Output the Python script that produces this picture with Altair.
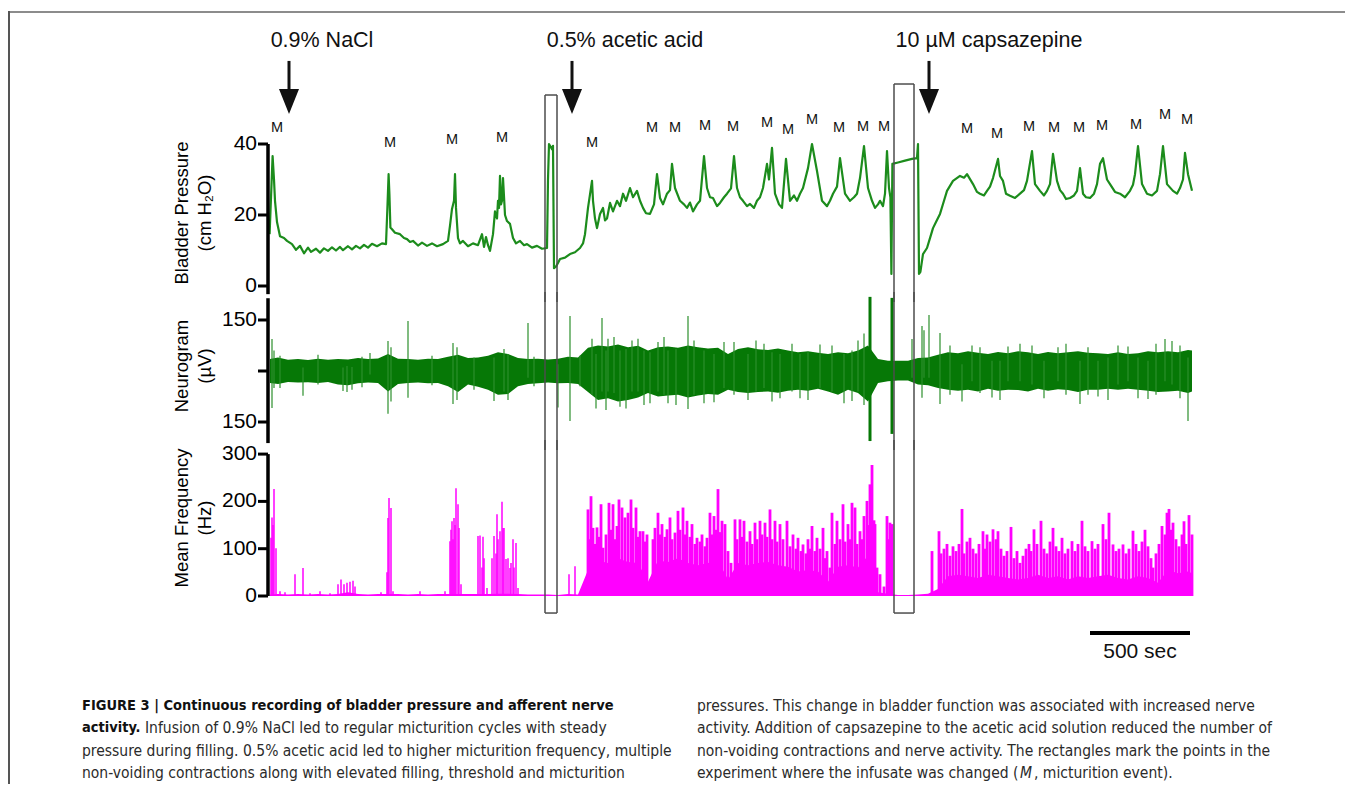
import altair as alt
import pandas as pd

# ---------------- data (time in seconds) ----------------
PRESSURE = [
    (8, 14.6), (23, 36.6), (30, 30), (35, 24), (45, 18), (60, 14), (80, 13.5), (95, 12.7),
    (120, 11.8), (140, 10.2), (160, 11.3), (180, 9.2), (200, 10.8), (215, 9.6), (240, 10.5),
    (260, 9.4), (280, 10.6), (300, 9.9), (320, 10.9), (340, 10), (360, 11), (375, 10.1),
    (400, 11.2), (420, 10.3), (440, 11.3), (460, 10.6), (480, 11.6), (500, 10.8), (520, 11.9),
    (545, 11.2), (570, 12), (590, 11.8), (597, 22), (603, 31.5), (607, 26), (612, 16.5),
    (620, 16), (635, 15), (660, 14.6), (680, 13.5), (695, 13.2), (710, 12.4), (725, 12.7),
    (750, 11.4), (770, 12.2), (795, 11.3), (820, 12), (845, 11.2), (875, 11.8), (900, 12.7),
    (910, 17), (920, 21.7), (930, 24), (935, 31.5), (940, 22), (950, 13.5), (960, 12),
    (975, 12.7), (1000, 11.2), (1025, 12), (1050, 11.5), (1070, 14.6), (1080, 11),
    (1090, 13.8), (1100, 11.5), (1110, 9.9), (1125, 14.6), (1135, 21), (1145, 19), (1150, 24),
    (1155, 22), (1160, 31), (1165, 23), (1170, 24), (1175, 30.4), (1185, 20), (1195, 18.3),
    (1210, 17.5), (1225, 13.5), (1240, 12), (1260, 12.7), (1280, 11.5), (1295, 11.8),
    (1320, 10.8), (1345, 11.3), (1370, 10.5), (1395, 10.7), (1400, 30), (1405, 40),
    (1420, 38.5), (1425, 39.5), (1430, 5), (1440, 5.5), (1450, 6.5), (1460, 7.6), (1485, 8),
    (1510, 9), (1535, 9.5), (1560, 10.7), (1575, 12), (1585, 14.6), (1600, 22), (1620, 29.6),
    (1625, 24), (1635, 19), (1645, 16.3), (1660, 20.3), (1675, 22), (1685, 18.5), (1695, 19),
    (1710, 23.4), (1725, 21), (1745, 24), (1760, 22.5), (1775, 26), (1790, 24), (1810, 27.6),
    (1825, 25), (1845, 26.8), (1860, 24), (1875, 22), (1890, 20.5), (1910, 20.3), (1930, 23),
    (1945, 31.5), (1960, 24.8), (1975, 23), (1995, 26), (2010, 27), (2020, 34.4), (2035, 27.6),
    (2060, 24), (2080, 23), (2095, 22), (2110, 23.5), (2125, 21), (2145, 23), (2160, 24),
    (2180, 36.6), (2195, 27.6), (2210, 25), (2225, 24.8), (2245, 22.5), (2260, 23.4),
    (2280, 25), (2295, 26), (2315, 27.5), (2330, 36.6), (2345, 27.6), (2360, 25), (2375, 24),
    (2395, 22.5), (2410, 23.1), (2430, 22), (2445, 24), (2460, 25), (2475, 27.6), (2495, 34.4),
    (2505, 30), (2520, 38.9), (2535, 26), (2555, 23), (2570, 22), (2590, 35.8), (2610, 24),
    (2630, 25.5), (2645, 24), (2660, 26), (2675, 27.6), (2700, 33.2), (2720, 40), (2745, 32.4),
    (2770, 24), (2795, 22.5), (2810, 24), (2825, 26), (2845, 28), (2860, 36), (2885, 26),
    (2910, 24), (2930, 25), (2945, 26), (2960, 30.4), (2980, 39.4), (3000, 27.6), (3020, 24),
    (3035, 22), (3050, 23), (3060, 24), (3075, 22.5), (3085, 26), (3095, 38), (3105, 27.6),
    (3112, 25), (3117, 3.4), (3122, 34.4), (3150, 34.8), (3185, 35.3), (3220, 35.8),
    (3245, 36), (3250, 40), (3255, 3.4), (3262, 4), (3275, 9), (3295, 10.7), (3310, 13.5),
    (3325, 16.3), (3340, 18), (3360, 20.3), (3380, 24), (3395, 26.8), (3425, 29.6), (3460, 31),
    (3480, 30.5), (3495, 31.5), (3525, 28.7), (3545, 26.5), (3560, 26), (3580, 25.5),
    (3595, 26.8), (3610, 28), (3625, 30.4), (3650, 35.8), (3660, 31), (3675, 29.6), (3690, 26),
    (3710, 25.4), (3735, 24.8), (3760, 26), (3780, 27), (3795, 29.6), (3820, 38), (3835, 28.7),
    (3860, 26.8), (3880, 25.5), (3895, 26.8), (3910, 28.7), (3925, 37.2), (3945, 29.6),
    (3960, 27), (3975, 26), (3990, 24.5), (4010, 24.8), (4030, 25.5), (4045, 26.8),
    (4060, 33.2), (4075, 26), (4090, 25), (4110, 24.8), (4130, 26), (4145, 28.7), (4160, 34.4),
    (4175, 36), (4195, 30), (4210, 28.7), (4235, 26.5), (4260, 26), (4285, 25), (4310, 26.8),
    (4325, 28.5), (4335, 31.5), (4350, 39.4), (4370, 28.7), (4395, 26), (4420, 25.5),
    (4445, 26.8), (4460, 31.5), (4475, 39.4), (4495, 28.7), (4525, 26.8), (4545, 26),
    (4560, 27.6), (4575, 30), (4585, 37.5), (4600, 31.5), (4620, 26.8),
]

# micturition labels: (time, label height in cm H2O units)
M_EVENTS = [
    (45, 44.5), (610, 40.3), (920, 41.1), (1170, 41.7), (1620, 40.3), (1920, 44.5),
    (2035, 44.5), (2185, 45.1), (2325, 44.8), (2495, 45.9), (2600, 43.9), (2720, 46.8),
    (2855, 44.5), (2975, 44.8), (3080, 44.8), (3495, 44.2), (3645, 42.8), (3805, 44.8),
    (3930, 44.5), (4055, 44.5), (4170, 45.1), (4340, 45.4), (4485, 48.2), (4595, 46.8),
]

ARROW_T = [105, 1520, 3305]
ARROW_TEXT = ["0.9% NaCl", "0.5% acetic acid", "10 µM capsazepine"]
ARROW_TEXT_T = [270, 1785, 3605]

RECT_T = [(1385, 1445), (3130, 3230)]
RECT_TOP = [53.8, 56.9]

# axes
P_TICKS = [0, 20, 40]
P_TICK_LABELS = ["0", "20", "40"]
P_TITLE = ["Bladder Pressure", "(cm H₂O)"]
N_TICKS = [-150, 0, 150]
N_TICK_LABELS = ["150", "", "150"]
N_TITLE = ["Neurogram", "(µV)"]
F_TICKS = [0, 100, 200, 300]
F_TICK_LABELS = ["0", "100", "200", "300"]
F_TITLE = ["Mean Frequency", "(Hz)"]

# neurogram envelope: (time, upper µV, lower µV)
NEURO_ENV = [
    (10, 35, -35), (50, 40, -38), (100, 33, -32), (150, 35, -34), (200, 32, -33), (250, 36, -35),
    (300, 33, -32), (350, 35, -40), (400, 34, -42), (450, 38, -36), (500, 35, -34), (550, 37, -35),
    (600, 50, -60), (650, 36, -38), (700, 35, -35), (750, 33, -34), (800, 36, -36), (850, 35, -35),
    (900, 42, -45), (950, 48, -62), (1000, 38, -40), (1050, 40, -46), (1100, 45, -55),
    (1150, 55, -70), (1200, 50, -68), (1250, 38, -45), (1300, 35, -38), (1350, 36, -36),
    (1400, 34, -34), (1450, 36, -36), (1500, 42, -35), (1550, 40, -38), (1600, 68, -62),
    (1650, 75, -85), (1700, 72, -80), (1750, 78, -90), (1800, 70, -85), (1850, 74, -78),
    (1900, 60, -65), (1950, 70, -75), (2000, 72, -72), (2050, 68, -70), (2100, 75, -78),
    (2150, 70, -72), (2200, 66, -68), (2250, 68, -70), (2300, 50, -55), (2350, 65, -62),
    (2400, 70, -65), (2450, 64, -62), (2500, 62, -60), (2550, 66, -64), (2600, 60, -58),
    (2650, 55, -55), (2700, 58, -58), (2750, 54, -52), (2800, 50, -60), (2850, 55, -70),
    (2900, 52, -55), (2950, 60, -65), (3000, 75, -90), (3050, 35, -35), (3100, 30, -30),
    (3150, 30, -28), (3200, 30, -28), (3250, 38, -40), (3300, 40, -42), (3350, 48, -50),
    (3400, 55, -55), (3450, 52, -58), (3500, 58, -55), (3550, 54, -60), (3600, 50, -52),
    (3650, 56, -58), (3700, 52, -55), (3750, 58, -56), (3800, 55, -60), (3850, 50, -52),
    (3900, 56, -58), (3950, 52, -54), (4000, 55, -56), (4050, 58, -62), (4100, 54, -55),
    (4150, 52, -55), (4200, 50, -52), (4250, 55, -55), (4300, 50, -52), (4350, 52, -55),
    (4400, 58, -58), (4450, 55, -62), (4500, 58, -60), (4550, 55, -58), (4600, 62, -65),
    (4620, 60, -60),
]

# neurogram spikes: (time, top µV, bottom µV)
NEURO_SPIKES = [
    (20, 94, -109), (30, 60, -50), (60, 45, -50), (175, 10, -73), (250, 48, -40), (375, 10, -59),
    (395, 15, -62), (420, 12, -55), (470, 42, -48), (510, 53, -10), (600, 88, -126),
    (615, 70, -90), (700, 147, -79), (820, 45, -42), (925, 82, -97), (945, 70, -85),
    (1030, 40, -55), (1130, 40, -88), (1180, 65, -60), (1200, 50, -85), (1300, 141, -20),
    (1330, 42, -45), (1450, 20, -107), (1510, 162, -147), (1560, 45, -45), (1620, 95, -70),
    (1640, 50, -110), (1670, 156, -60), (1690, 60, -115), (1700, 95, -60), (1730, 100, -65),
    (1760, 60, -105), (1790, 65, -110), (1820, 90, -60), (1850, 95, -60), (1880, 60, -100),
    (1910, 55, -95), (1950, 85, -60), (1980, 100, -70), (2000, 60, -95), (2040, 65, -100),
    (2100, 162, -112), (2130, 90, -70), (2180, 60, -95), (2230, 50, -92), (2280, 85, -50),
    (2330, 85, -70), (2400, 50, -85), (2440, 90, -60), (2480, 80, -50), (2520, 55, -90),
    (2560, 50, -80), (2620, 80, -60), (2660, 50, -80), (2700, 55, -85), (2760, 78, -50),
    (2820, 75, -60), (2880, 50, -95), (2920, 60, -88), (2950, 90, -60), (2980, 110, -100),
    (3220, 94, -20), (3270, 132, -79), (3280, 120, -20), (3305, 165, -20), (3360, 112, -97),
    (3410, 75, -70), (3470, 20, -90), (3520, 75, -30), (3560, 70, -65), (3620, 30, -78),
    (3660, 30, -85), (3700, 72, -30), (3760, 80, -30), (3820, 75, -40), (3880, 30, -80),
    (3950, 70, -30), (3990, 80, -70), (4060, 30, -97), (4100, 70, -70), (4150, 30, -75),
    (4200, 40, -85), (4250, 75, -40), (4300, 72, -30), (4350, 40, -80), (4400, 30, -82),
    (4440, 80, -70), (4485, 94, -30), (4520, 88, -40), (4560, 75, -80), (4600, 40, -147),
]
NEURO_BIG = [(3010, 218, -206), (3120, 215, -185)]

# mean frequency: dense core level (time, Hz)
FREQ_CORE = [
    (10, 3), (50, 4), (100, 3), (150, 4), (200, 3), (250, 4), (300, 3), (350, 4), (400, 8),
    (450, 4), (500, 3), (550, 4), (600, 4), (650, 4), (700, 3), (750, 4), (800, 3), (850, 4),
    (900, 4), (950, 4), (1000, 4), (1050, 4), (1100, 4), (1150, 5), (1200, 5), (1250, 4),
    (1300, 3), (1350, 3), (1400, 3), (1450, 2), (1500, 4), (1550, 3), (1600, 55), (1650, 75),
    (1700, 70), (1750, 80), (1800, 72), (1850, 70), (1900, 30), (1950, 75), (2000, 72),
    (2050, 80), (2100, 70), (2150, 65), (2200, 70), (2250, 75), (2300, 35), (2350, 70),
    (2400, 65), (2450, 70), (2500, 72), (2550, 65), (2600, 62), (2650, 52), (2700, 55),
    (2750, 52), (2800, 30), (2850, 62), (2900, 65), (2950, 60), (3000, 85), (3050, 8),
    (3100, 5), (3150, 2), (3200, 2), (3250, 3), (3300, 5), (3350, 15), (3400, 42), (3450, 45),
    (3500, 42), (3550, 38), (3600, 45), (3650, 42), (3700, 38), (3750, 35), (3800, 38),
    (3850, 45), (3900, 38), (3950, 42), (4000, 35), (4050, 42), (4100, 38), (4150, 42),
    (4200, 45), (4250, 38), (4300, 35), (4350, 42), (4400, 38), (4450, 28), (4500, 55),
    (4550, 48), (4600, 52), (4620, 48),
]

# mean frequency spikes: (time, Hz)
FREQ_SPIKES = [
    (15, 123), (20, 166), (25, 150), (30, 226), (40, 101), (60, 10), (85, 8), (135, 46),
    (175, 59), (210, 6), (260, 10), (310, 6), (350, 25), (365, 35), (380, 25), (395, 28),
    (410, 30), (425, 32), (435, 20), (565, 8), (595, 50), (600, 165), (605, 207), (615, 186),
    (625, 10), (760, 10), (885, 10), (910, 116), (915, 140), (920, 158), (925, 120), (930, 165),
    (935, 150), (940, 228), (950, 194), (955, 144), (965, 25), (1050, 127), (1060, 128),
    (1070, 60), (1075, 125), (1080, 80), (1095, 17), (1120, 80), (1130, 127), (1140, 90),
    (1145, 173), (1150, 120), (1160, 137), (1170, 199), (1175, 144), (1180, 144), (1190, 78),
    (1200, 80), (1210, 59), (1215, 70), (1225, 120), (1230, 60), (1240, 112), (1250, 17),
    (1505, 46), (1535, 63),
    (1600, 183), (1610, 120), (1615, 211), (1625, 144), (1635, 110), (1645, 145), (1655, 125),
    (1665, 194), (1675, 102), (1690, 130), (1705, 197), (1715, 140), (1725, 194), (1735, 120),
    (1745, 148), (1755, 204), (1770, 187), (1785, 166), (1800, 176), (1815, 204), (1825, 144),
    (1840, 187), (1850, 125), (1860, 137), (1875, 137), (1885, 115), (1895, 130), (1910, 18),
    (1925, 120), (1935, 144), (1950, 176), (1960, 130), (1970, 152), (1985, 125), (1995, 141),
    (2010, 166), (2020, 120), (2035, 134), (2050, 180), (2060, 140), (2075, 187), (2085, 130),
    (2095, 159), (2110, 125), (2120, 152), (2135, 110), (2145, 123), (2160, 115), (2170, 130),
    (2185, 105), (2195, 123), (2210, 176), (2220, 130), (2230, 169), (2240, 140), (2250, 226),
    (2260, 135), (2270, 159), (2285, 152), (2300, 95), (2315, 70), (2335, 162), (2345, 120),
    (2360, 162), (2370, 125), (2380, 159), (2395, 115), (2410, 137), (2420, 110), (2435, 155),
    (2445, 120), (2460, 159), (2470, 130), (2485, 155), (2495, 125), (2510, 183), (2520, 120),
    (2535, 159), (2545, 115), (2560, 152), (2575, 120), (2595, 159), (2610, 105), (2625, 130),
    (2640, 100), (2650, 123), (2665, 95), (2675, 109), (2690, 90), (2700, 120), (2710, 100),
    (2720, 148), (2735, 95), (2745, 123), (2760, 100), (2775, 144), (2785, 80), (2795, 95),
    (2810, 60), (2820, 176), (2835, 110), (2845, 159), (2860, 120), (2875, 194), (2885, 115),
    (2900, 152), (2910, 120), (2920, 197), (2935, 187), (2945, 110), (2960, 137), (2970, 120),
    (2980, 169), (2995, 201), (3005, 150), (3010, 236), (3020, 277), (3030, 160), (3035, 152),
    (3045, 60), (3060, 46), (3080, 20), (3095, 169), (3105, 120), (3110, 155), (3120, 152),
    (3320, 95), (3355, 137), (3365, 90), (3380, 100), (3395, 110), (3410, 85), (3425, 105),
    (3440, 95), (3455, 110), (3470, 184), (3480, 90), (3495, 115), (3510, 123), (3525, 100),
    (3540, 90), (3555, 110), (3575, 137), (3585, 100), (3595, 130), (3610, 115), (3625, 141),
    (3640, 120), (3650, 137), (3665, 100), (3680, 85), (3695, 95), (3715, 146), (3730, 80),
    (3745, 95), (3760, 70), (3775, 85), (3790, 100), (3805, 110), (3815, 95), (3830, 141),
    (3845, 110), (3865, 159), (3880, 100), (3895, 90), (3910, 115), (3925, 144), (3940, 105),
    (3955, 95), (3970, 123), (3985, 90), (4000, 100), (4020, 116), (4035, 95), (4050, 110),
    (4070, 159), (4085, 105), (4100, 95), (4120, 116), (4135, 100), (4150, 110), (4175, 152),
    (4190, 120), (4205, 176), (4225, 109), (4240, 95), (4255, 100), (4275, 109), (4290, 90),
    (4305, 100), (4325, 138), (4340, 110), (4355, 95), (4370, 115), (4385, 140), (4400, 105),
    (4415, 80), (4425, 60), (4440, 90), (4455, 110), (4470, 148), (4485, 130), (4495, 176),
    (4505, 184), (4515, 140), (4525, 155), (4540, 120), (4555, 105), (4570, 130), (4580, 158),
    (4590, 110), (4605, 171), (4620, 130),
]
ACTIVE_FROM = 1580  # recording phase with dense firing (acetic acid onwards)

SCALE_BAR = (4110, 4610)
SCALE_TEXT = "500 sec"

CAPTION_LEFT = [
    "FIGURE 3 | Continuous recording of bladder pressure and afferent nerve",
    "activity.",
    "Infusion of 0.9% NaCl led to regular micturition cycles with steady",
    "pressure during filling. 0.5% acetic acid led to higher micturition frequency, multiple",
    "non-voiding contractions along with elevated filling, threshold and micturition",
]
CAPTION_RIGHT = [
    "pressures. This change in bladder function was associated with increased nerve",
    "activity. Addition of capsazepine to the acetic acid solution reduced the number of",
    "non-voiding contractions and nerve activity. The rectangles mark the points in the",
    "experiment where the infusate was changed (",
    "M",
    ", micturition event).",
]

# ---------------- styles ----------------
GREEN_P = "#1c8c1c"
GREEN_N = "#067806"
GREEN_S = "#2c8f2c"
MAGENTA = "#ff00ff"
RECT_C = "#4d4d4d"
INK = "#111111"
FONT = "Liberation Sans, Arial, Helvetica, sans-serif"
CAP_FONT = "Liberation Sans Narrow, DejaVu Sans Condensed, Arial Narrow, Liberation Sans, sans-serif"
CAP_SIZE = 15.5
CAP_BOLD_SIZE = 14.5

W = 930
H1, H2, H3 = 153, 150, 149

xs = alt.Scale(domain=[0, 4650], nice=False, zero=False)
ps = alt.Scale(domain=[-3.1, 40], nice=False, zero=False)
ns = alt.Scale(domain=[-223.5, 217.6], nice=False, zero=False)
fs = alt.Scale(domain=[0, 315], nice=False, zero=False)

X = alt.X("t:Q", scale=xs, axis=None)
one = pd.DataFrame({"k": [0]})


def axis_layers(ticks, labels, title, title_y, top, bottom, scale):
    df = pd.DataFrame({"v": ticks, "lab": labels})
    line = alt.Chart(one).mark_rule(color="black", strokeWidth=3.5).encode(
        x=alt.value(0), y=alt.YDatum(top, scale=scale, axis=None), y2=alt.Y2Datum(bottom))
    tick = alt.Chart(df).mark_rule(color="black", strokeWidth=3).encode(
        x=alt.value(-10), x2=alt.value(0), y=alt.Y("v:Q", scale=scale, axis=None))
    lab = alt.Chart(df).mark_text(
        font=FONT, fontSize=21, color="black", align="right", baseline="middle").encode(
        x=alt.value(-11), y=alt.Y("v:Q", scale=scale, axis=None), text="lab:N")
    ttl = alt.Chart(one).mark_text(
        text=title, font=FONT, fontSize=18.5, color="black", angle=270, lineHeight=23,
        align="center", baseline="middle").encode(x=alt.value(-86), y=alt.value(title_y))
    return [line, tick, lab, ttl]


df_p = pd.DataFrame(PRESSURE, columns=["t", "p"])
df_m = pd.DataFrame(M_EVENTS, columns=["t", "v"])
df_arrow = pd.DataFrame({"t": ARROW_T})
df_alabel = pd.DataFrame({"t": ARROW_TEXT_T, "label": ARROW_TEXT})
df_rect_sides = pd.DataFrame(
    [(t, top) for (a, b), top in zip(RECT_T, RECT_TOP) for t in (a, b)], columns=["t", "top"])
df_rect_top = pd.DataFrame(
    [(a, b, top) for (a, b), top in zip(RECT_T, RECT_TOP)], columns=["t1", "t2", "top"])
df_rect_edges = pd.DataFrame({"t": [t for ab in RECT_T for t in ab]})
df_rect_span = pd.DataFrame(RECT_T, columns=["t1", "t2"])
df_env = pd.DataFrame(NEURO_ENV, columns=["t", "up", "lo"])
df_ns = pd.DataFrame(NEURO_SPIKES, columns=["t", "top", "bot"])
df_nb = pd.DataFrame(NEURO_BIG, columns=["t", "top", "bot"])
df_fc = pd.DataFrame(FREQ_CORE, columns=["t", "hz"])
df_fs = pd.DataFrame(FREQ_SPIKES, columns=["t", "hz"])

# ---------------- panel 1: bladder pressure ----------------
press = alt.Chart(df_p).mark_line(color=GREEN_P, strokeWidth=2.2, strokeJoin="round").encode(
    x=X, y=alt.Y("p:Q", scale=ps, axis=None))
mtext = alt.Chart(df_m).mark_text(text="M", font=FONT, fontSize=14.5, color=INK).encode(
    x=X, y=alt.Y("v:Q", scale=ps, axis=None))
shaft = alt.Chart(df_arrow).mark_rule(color=INK, strokeWidth=3).encode(
    x=X, y=alt.YDatum(63.4, scale=ps, axis=None), y2=alt.Y2Datum(54.9))
head = alt.Chart(df_arrow).mark_point(
    shape="M-0.8,-1L0.8,-1L0,1Z", size=625, filled=True, color=INK, opacity=1).encode(
    x=X, y=alt.YDatum(52.0, scale=ps, axis=None))
alab = alt.Chart(df_alabel).mark_text(font=FONT, fontSize=21.5, color=INK).encode(
    x=X, y=alt.YDatum(69.0, scale=ps, axis=None), text="label:N")
rs1 = alt.Chart(df_rect_sides).mark_rule(color=RECT_C, strokeWidth=1.5).encode(
    x=X, y=alt.Y("top:Q", scale=ps, axis=None), y2=alt.Y2Datum(-4.5))
rt1 = alt.Chart(df_rect_top).mark_rule(color=RECT_C, strokeWidth=1.5).encode(
    x=alt.X("t1:Q", scale=xs, axis=None), x2="t2:Q", y=alt.Y("top:Q", scale=ps, axis=None))
frame_top = alt.Chart(one).mark_rule(color="#8c8c8c", strokeWidth=2).encode(
    x=alt.value(-259), x2=alt.value(1077), y=alt.value(-132))
frame_left = alt.Chart(one).mark_rule(color="#555555", strokeWidth=2).encode(
    x=alt.value(-259), y=alt.value(-133), y2=alt.value(640))

panel1 = alt.layer(
    press, *axis_layers(P_TICKS, P_TICK_LABELS, P_TITLE, 69, 40, -2.3, ps),
    mtext, shaft, head, alab, rs1, rt1, frame_top, frame_left,
).properties(width=W, height=H1)

# ---------------- panel 2: neurogram ----------------
nenv = alt.Chart(df_env).mark_area(color=GREEN_N, opacity=1).encode(
    x=X, y=alt.Y("up:Q", scale=ns, axis=None), y2="lo:Q")
nsp = alt.Chart(df_ns).mark_rule(color=GREEN_S, strokeWidth=1.2).encode(
    x=X, y=alt.Y("top:Q", scale=ns, axis=None), y2="bot:Q")
nbig = alt.Chart(df_nb).mark_rule(color=GREEN_N, strokeWidth=3).encode(
    x=X, y=alt.Y("top:Q", scale=ns, axis=None), y2="bot:Q")
rs2 = alt.Chart(df_rect_edges).mark_rule(color=RECT_C, strokeWidth=1.5).encode(
    x=X, y=alt.YDatum(232, scale=ns, axis=None), y2=alt.Y2Datum(-232))

panel2 = alt.layer(
    nenv, nsp, nbig, *axis_layers(N_TICKS, N_TICK_LABELS, N_TITLE, 69, 214, -212, ns), rs2,
).properties(width=W, height=H2)

# ---------------- panel 3: mean frequency ----------------
fcore = alt.Chart(df_fc).mark_area(color=MAGENTA, opacity=1).encode(
    x=X, y=alt.Y("hz:Q", scale=fs, axis=None), y2=alt.Y2Datum(0))
fsp_quiet = alt.Chart(df_fs).transform_filter(alt.datum.t < ACTIVE_FROM).mark_rule(
    color=MAGENTA, strokeWidth=1.5).encode(
    x=X, y=alt.Y("hz:Q", scale=fs, axis=None), y2=alt.Y2Datum(0))
fsp_active = alt.Chart(df_fs).transform_filter(alt.datum.t >= ACTIVE_FROM).mark_rule(
    color=MAGENTA, strokeWidth=2.8).encode(
    x=X, y=alt.Y("hz:Q", scale=fs, axis=None), y2=alt.Y2Datum(0))
rs3 = alt.Chart(df_rect_edges).mark_rule(color=RECT_C, strokeWidth=1.5).encode(
    x=X, y=alt.YDatum(330, scale=fs, axis=None), y2=alt.Y2Datum(-36))
rb3 = alt.Chart(df_rect_span).mark_rule(color=RECT_C, strokeWidth=1.5).encode(
    x=alt.X("t1:Q", scale=xs, axis=None), x2="t2:Q", y=alt.YDatum(-36, scale=fs, axis=None))
sbar = alt.Chart(one).mark_rule(color="black", strokeWidth=4).encode(
    x=alt.XDatum(SCALE_BAR[0], scale=xs, axis=None), x2=alt.X2Datum(SCALE_BAR[1]),
    y=alt.YDatum(-78, scale=fs, axis=None))
stext = alt.Chart(one).mark_text(text=SCALE_TEXT, font=FONT, fontSize=21, color=INK).encode(
    x=alt.XDatum((SCALE_BAR[0] + SCALE_BAR[1]) / 2, scale=xs, axis=None),
    y=alt.YDatum(-118, scale=fs, axis=None))


def cap(text, x, y, weight="normal", style="normal", color="#2b2b2b", size=CAP_SIZE):
    return alt.Chart(one).mark_text(
        text=text, font=CAP_FONT, fontSize=size, fontWeight=weight, fontStyle=style,
        align="left", baseline="middle", color=color).encode(x=alt.value(x), y=alt.value(y))


caps = [
    cap(CAPTION_LEFT[0], -186, 259, "bold", color="#111111", size=CAP_BOLD_SIZE),
    cap(CAPTION_LEFT[1], -186, 281, "bold", color="#111111", size=CAP_BOLD_SIZE),
    cap(CAPTION_LEFT[2], -123, 281),
    cap(CAPTION_LEFT[3], -186, 304),
    cap(CAPTION_LEFT[4], -186, 326),
    cap(CAPTION_RIGHT[0], 429, 259),
    cap(CAPTION_RIGHT[1], 429, 281),
    cap(CAPTION_RIGHT[2], 429, 304),
    cap(CAPTION_RIGHT[3], 429, 326),
    cap(CAPTION_RIGHT[4], 752, 326, style="italic"),
    cap(CAPTION_RIGHT[5], 766, 326),
]

panel3 = alt.layer(
    fcore, fsp_quiet, fsp_active, *axis_layers(F_TICKS, F_TICK_LABELS, F_TITLE, 71, 300, 0, fs),
    rs3, rb3, sbar, stext, *caps,
).properties(width=W, height=H3)

chart = (
    alt.vconcat(panel1, panel2, panel3, spacing=0, bounds="flush")
    .resolve_scale(y="independent")
    .properties(padding={"top": 2, "left": 0, "right": 0, "bottom": 0})
    .configure_view(strokeWidth=0)
)

chart.save("out.html", embed_options={"renderer": "svg", "actions": False})
